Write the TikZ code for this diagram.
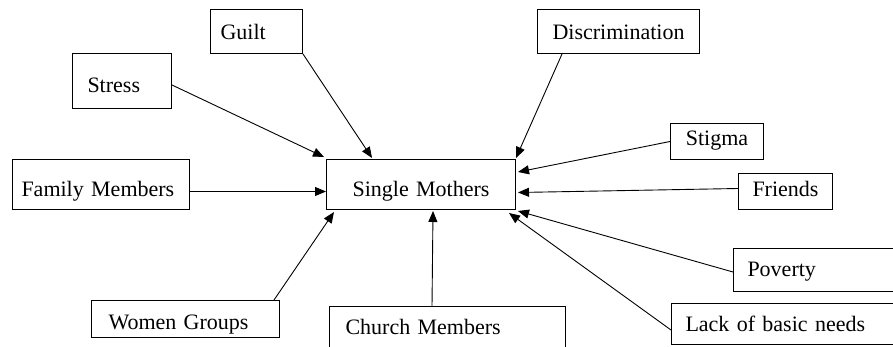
\documentclass[tikz,border=0pt]{standalone}
\usepackage{fontspec}
\setmainfont{Liberation Serif}
\usetikzlibrary{arrows.meta}
\tikzset{
  box/.style={draw, line width=1pt, inner sep=0pt, anchor=north west, align=left,
    font=\fontsize{22}{26}\selectfont},
  cbox/.style={box, align=center},
  link/.style={line width=0.9pt, -{Triangle[length=11pt,width=9pt]}}
}
\begin{document}
\begin{tikzpicture}[x=1pt, y=-1pt]
          \useasboundingbox (0,0) rectangle (893,347);
          \clip (0,0) rectangle (893,347);
          %centro
          \node[cbox, text width=189pt, text height=37pt, text depth=13pt] (sm) at (326,159) {Single Mothers};
          %arriba
          \node[box, inner xsep=10pt, text width=72pt, text height=30pt, text depth=14pt] (guilt) at (210,9) {Guilt};
          \node[box, inner xsep=15pt, text width=69pt, text height=39pt, text depth=16pt] (stress) at (72,53) {Stress};
          \node[cbox, text width=162pt, text height=30pt, text depth=14pt] (disc) at (537,9) {Discrimination};
          %derecha
          \node[cbox, text width=93pt, text height=22pt, text depth=14pt] (stigma) at (670,123) {Stigma};
          \node[cbox, text width=94pt, text height=23pt, text depth=13pt] (friends) at (738,173) {Friends};
          \node[box, inner xsep=14pt, text width=172pt, text height=28pt, text depth=15pt] (poverty) at (733,248) {Poverty};
          \node[box, inner xsep=14pt, text width=212pt, text height=28pt, text depth=13pt] (lack) at (671,303) {Lack of basic needs};
          %izquierda y abajo
          \node[box, inner xsep=9pt, text width=159pt, text height=37pt, text depth=13pt] (fam) at (12,159) {Family Members};
          \node[box, inner xsep=17pt, text width=154pt, text height=29pt, text depth=8pt] (women) at (91,300) {Women Groups};
          \node[box, inner xsep=16pt, text width=204pt, text height=28pt, text depth=30pt] (church) at (329,306) {Church Members};
          %flechas
          \draw[link] ([yshift=-4pt]stress.east) -- ([xshift=-2pt,yshift=2pt]sm.north west);
          \draw[link] (guilt.south east) -- ([xshift=46pt,yshift=1pt]sm.north west);
          \draw[link] ([xshift=25pt]disc.south west) -- ([yshift=1pt]sm.north east);
          \draw[link] (stigma.west) -- ([xshift=2pt,yshift=-13pt]sm.north east);
          \draw[link] ([yshift=3pt]friends.west) -- ([xshift=2pt,yshift=-8pt]sm.east);
          \draw[link] ([yshift=-2pt]poverty.west) -- ([xshift=2pt,yshift=-1pt]sm.south east);
          \draw[link] ([yshift=-6pt]lack.west) -- ([xshift=-7pt,yshift=-3pt]sm.south east);
          \draw[link] ([yshift=-7pt]fam.east) -- ([yshift=-7pt]sm.west);
          \draw[link] ([xshift=-6pt]women.north east) -- ([xshift=8pt,yshift=-2pt]sm.south west);
          \draw[link] ([xshift=103pt]church.north west) -- ([xshift=12pt,yshift=-1pt]sm.south);
\end{tikzpicture}
\end{document}
